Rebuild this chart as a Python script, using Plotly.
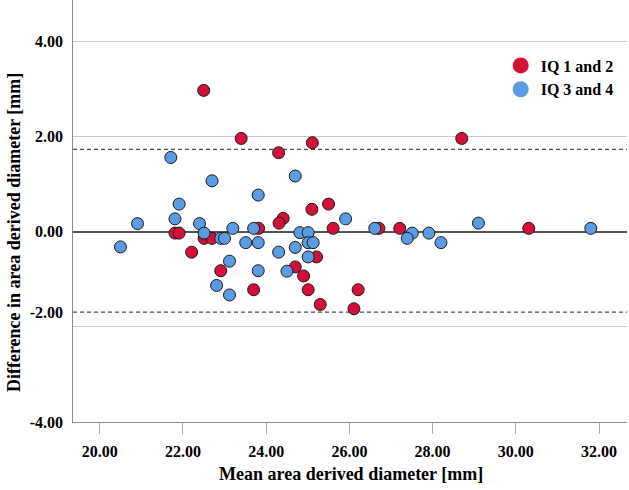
import plotly.graph_objects as go

# ---- data ----
iq12_mean = [21.81, 21.91, 22.51, 22.70, 22.21, 22.91, 23.70, 22.50, 23.40, 24.30,
             25.11, 23.82, 25.50, 25.10, 24.41, 24.31, 25.61, 25.21, 24.70, 24.90,
             25.01, 25.30, 26.71, 27.21, 26.21, 26.11, 28.70, 30.31]
iq12_diff = [-0.03, -0.03, -0.14, -0.14, -0.43, -0.82, -1.22, 2.97, 1.96, 1.66,
             1.87, 0.07, 0.58, 0.47, 0.28, 0.18, 0.07, -0.53, -0.74, -0.93,
             -1.22, -1.53, 0.07, 0.07, -1.22, -1.62, 1.96, 0.07]

iq34_mean = [21.71, 22.70, 21.91, 20.91, 21.81, 22.40, 22.51, 20.50, 22.91, 23.00,
             23.20, 23.70, 23.51, 23.81, 23.12, 23.81, 22.81, 23.12, 24.70, 23.81,
             24.81, 25.01, 25.01, 25.13, 24.70, 24.30, 25.01, 24.50, 25.91, 26.61,
             27.51, 27.39, 27.91, 28.20, 29.10, 31.80]
iq34_diff = [1.56, 1.07, 0.58, 0.17, 0.27, 0.17, -0.03, -0.32, -0.14, -0.14,
             0.07, 0.07, -0.23, -0.23, -0.62, -0.82, -1.13, -1.33, 1.17, 0.77,
             -0.02, -0.02, -0.23, -0.23, -0.33, -0.43, -0.53, -0.83, 0.27, 0.07,
             -0.03, -0.14, -0.03, -0.23, 0.18, 0.07]

upper_loa = 1.73
lower_loa = -1.69
grid_vals = [-4, -2, 0, 2, 4]
x_tick_vals = [20, 22, 24, 26, 28, 30, 32]
x_tick_text = ["20.00", "22.00", "24.00", "26.00", "28.00", "30.00", "32.00"]
y_label_vals = [4, 2, 0, lower_loa, -4]
y_label_text = ["4.00", "2.00", "0.00", "-2.00", "-4.00"]
series_names = ["IQ 1 and 2", "IQ 3 and 4"]

RED = "#D2103A"
BLUE = "#5A9BE2"
FONT = "Liberation Serif"

fig = go.Figure()
fig.add_trace(go.Scatter(x=iq12_mean, y=iq12_diff, mode="markers", showlegend=False,
                         marker=dict(size=12, color=RED, line=dict(color="#1a1a1a", width=1))))
fig.add_trace(go.Scatter(x=iq34_mean, y=iq34_diff, mode="markers", showlegend=False,
                         marker=dict(size=12, color=BLUE, line=dict(color="#1a1a1a", width=1))))
# legend entries (larger symbols, as in the reference)
for name, col in zip(series_names, [RED, BLUE]):
    fig.add_trace(go.Scatter(x=[None], y=[None], mode="markers", name=name,
                             marker=dict(size=16, color=col, line=dict(width=0))))

# limits of agreement
for v in [upper_loa, lower_loa]:
    fig.add_shape(type="line", xref="paper", x0=0, x1=1, yref="y", y0=v, y1=v,
                  line=dict(color="#4d4d4d", width=1.3, dash="4px,3px"), layer="below")

fig.update_layout(
    width=629, height=490,
    margin=dict(l=73, r=2, t=0, b=68),
    paper_bgcolor="white", plot_bgcolor="white",
    font=dict(family=FONT, color="black"),
    xaxis=dict(range=[19.36, 32.67], tickvals=x_tick_vals, ticktext=x_tick_text,
               showgrid=False, zeroline=False, showline=True, linecolor="#8a8a8a",
               linewidth=1, ticks="outside", ticklen=11, tickcolor="#aaaaaa",
               ticklabelstandoff=4,
               tickfont=dict(family=FONT, size=16, weight="bold", color="black")),
    yaxis=dict(range=[-4, 4.87], tickvals=grid_vals, showticklabels=False,
               showgrid=True, gridcolor="#c8c8c8", gridwidth=1,
               zeroline=True, zerolinecolor="#555555", zerolinewidth=2,
               showline=True, linecolor="#8a8a8a", linewidth=1, ticks=""),
    yaxis2=dict(range=[-4, 4.87], overlaying="y", side="left", tickvals=y_label_vals,
                ticktext=y_label_text, showgrid=False, zeroline=False, showline=False,
                ticks="", ticklabelstandoff=9,
                tickfont=dict(family=FONT, size=16, weight="bold", color="black")),
    legend=dict(x=0.772, y=0.885, xanchor="left", yanchor="top",
                font=dict(family=FONT, size=16, weight="bold", color="black"),
                bgcolor="rgba(0,0,0,0)", tracegroupgap=0),
    annotations=[
        dict(text="Difference in area derived diameter [mm]", xref="paper", yref="paper",
             x=-0.1065, y=0.45, textangle=-90, showarrow=False, xanchor="center",
             yanchor="middle", font=dict(family=FONT, size=18, weight="bold", color="black")),
        dict(text="Mean area derived diameter [mm]", xref="paper", yref="paper",
             x=0.502, y=-0.123, showarrow=False, xanchor="center", yanchor="middle",
             font=dict(family=FONT, size=18, weight="bold", color="black")),
    ],
)
# a dummy invisible trace on yaxis2 so the overlay axis is rendered
fig.add_trace(go.Scatter(x=[None], y=[None], yaxis="y2", showlegend=False))

fig.write_html("out.html", config={"displayModeBar": False},
               post_script="document.body.style.margin='0';document.body.style.padding='0';")
